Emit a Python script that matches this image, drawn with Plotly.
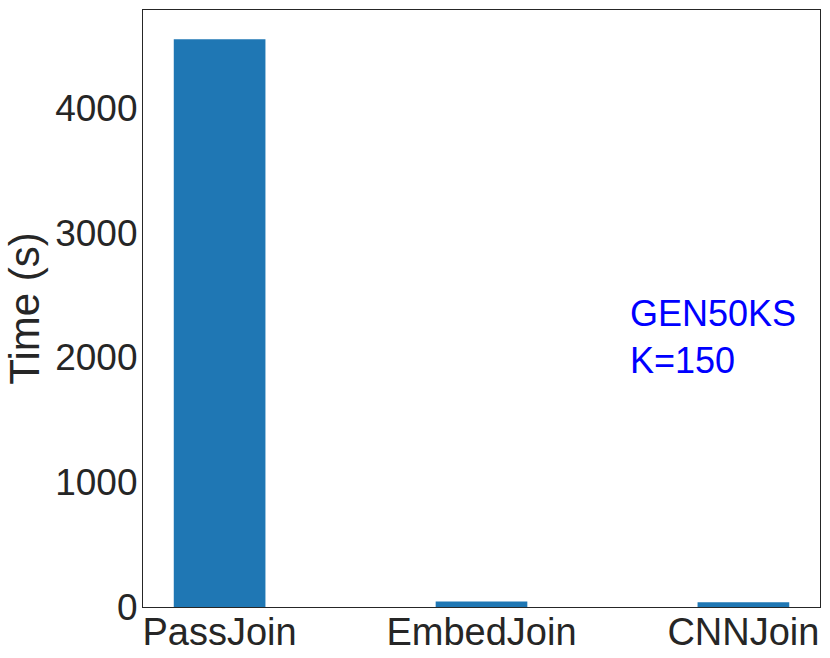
import plotly.graph_objects as go

# data
methods = ["PassJoin", "EmbedJoin", "CNNJoin"]
times = [4550, 45, 38]
yticks = [0, 1000, 2000, 3000, 4000]
note = "GEN50KS<br>K=150"

txt = "#262626"
font = "Liberation Sans, Arial, sans-serif"

fig = go.Figure(go.Bar(x=methods, y=times, width=0.35, marker_color="#1f77b4",
                       marker_line_width=0))

fig.add_annotation(text=note, xref="paper", yref="paper", x=0.717, y=0.452,
                   xanchor="left", yanchor="middle", align="left", showarrow=False,
                   font=dict(size=36, color="blue", family=font))

fig.update_layout(
    width=830, height=658,
    margin=dict(l=143, r=10, t=10, b=51),
    plot_bgcolor="white", paper_bgcolor="white",
    font=dict(family=font, color=txt, size=37),
    showlegend=False,
)
fig.update_xaxes(range=[-0.2925, 2.2925], showline=True, linecolor="#262626", linewidth=1.2,
                 mirror=True, ticks="", tickfont=dict(size=38), showgrid=False,
                 automargin=False, ticklabelstandoff=-9)
fig.update_yaxes(range=[0, 4785], tickvals=yticks, showline=True, linecolor="#262626",
                 linewidth=1.2, mirror=True, ticks="", tickfont=dict(size=37),
                 showgrid=False, zeroline=False, automargin=False, ticklabelstandoff=-3,
                 title=dict(text="Time (s)", font=dict(size=42), standoff=2))

# drop the default page margin so the figure sits at the window's corner
fig.write_html("out.html", config={"displayModeBar": False},
               post_script="document.body.style.margin='0';")
